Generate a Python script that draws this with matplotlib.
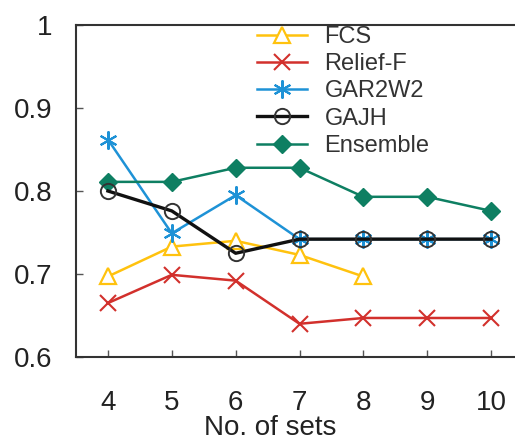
import matplotlib
matplotlib.use("Agg")
import matplotlib.pyplot as plt

plt.rcParams['font.family'] = ['Liberation Sans', 'DejaVu Sans']

sets = [4, 5, 6, 7, 8, 9, 10]
fcs_x = [4, 5, 6, 7, 8]
fcs = [0.697, 0.733, 0.740, 0.723, 0.697]
relief = [0.665, 0.699, 0.692, 0.640, 0.647, 0.647, 0.647]
gar2w2 = [0.862, 0.749, 0.795, 0.742, 0.742, 0.742, 0.742]
gajh = [0.800, 0.776, 0.725, 0.742, 0.742, 0.742, 0.742]
ensemble = [0.811, 0.811, 0.828, 0.828, 0.793, 0.793, 0.776]

xticks = [4, 5, 6, 7, 8, 9, 10]
yticks = [0.6, 0.7, 0.8, 0.9, 1.0]
yticklabels = ['0.6', '0.7', '0.8', '0.9', '1']

W, H = 515, 443
fig = plt.figure(figsize=(W/100, H/100), dpi=100)
ax = fig.add_axes([76/W, (H-357)/H, (523-76)/W, (357-25)/H])

c_fcs = '#FFC20E'
c_rel = '#D2302C'
c_gar = '#1E92D6'
c_gajh = '#111111'
c_ens = '#0E7F62'

ax.plot(fcs_x, fcs, color=c_fcs, lw=1.8, marker='^', ms=11, mfc='white',
        mec=c_fcs, mew=1.6, label='FCS', zorder=3)
ax.plot(sets, relief, color=c_rel, lw=1.8, marker='x', ms=12, mec=c_rel,
        mew=1.5, label='Relief-F', zorder=3)
ax.plot(sets, gar2w2, color=c_gar, lw=1.8, marker=(6, 2, 0), ms=13, mec=c_gar,
        mew=1.5, label='GAR2W2', zorder=3)
ax.plot(sets, gajh, color=c_gajh, lw=2.4, marker='o', ms=11, mfc='none',
        mec='#333333', mew=1.4, label='GAJH', zorder=4)
ax.plot(sets, ensemble, color=c_ens, lw=1.8, marker='D', ms=9, mfc=c_ens,
        mec=c_ens, label='Ensemble', zorder=3)

ax.set_xlim(3.5, 10.5)
ax.set_ylim(0.6, 1.0)
ax.set_xticks(xticks)
ax.set_yticks(yticks)
ax.set_yticklabels(yticklabels)
ax.tick_params(axis='both', direction='in', labelsize=20, length=5, width=1,
               color='#555555', colors='#222222')
ax.tick_params(axis='x', pad=24)
ax.tick_params(axis='y', pad=17)
for s in ax.spines.values():
    s.set_linewidth(1.5)
    s.set_color('#333333')

fig.text(270/W, 1 - 435/H, 'No. of sets', ha='center', va='baseline',
         fontsize=20, color='#222222')

leg = ax.legend(loc='upper left', bbox_to_anchor=((257-76)/(523-76), 0.997),
                frameon=False, fontsize=17, handlelength=2.1,
                handletextpad=0.76, labelspacing=0.22, borderaxespad=0,
                borderpad=0)
for t in leg.get_texts():
    t.set_color('#333333')

fig.savefig('out.png', dpi=100)
